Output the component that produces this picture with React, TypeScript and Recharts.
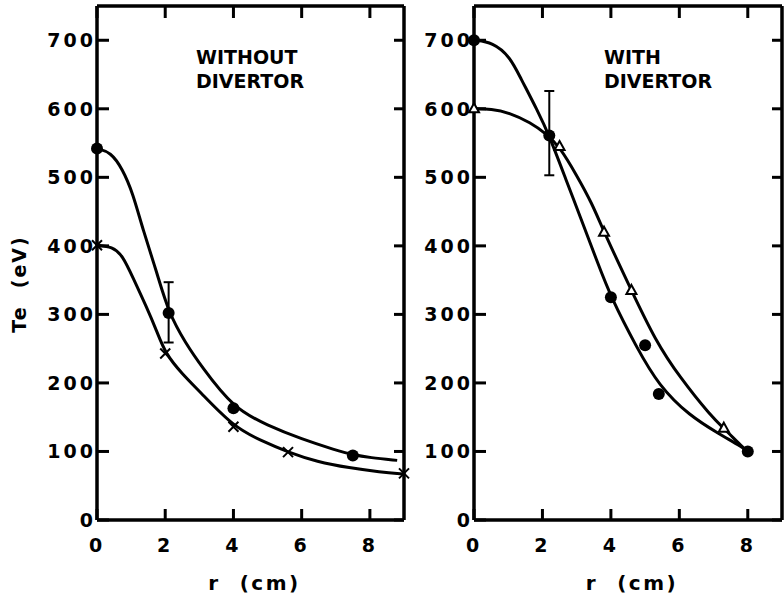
import React from 'react';
import { ComposedChart, Line, Scatter, XAxis, YAxis, ErrorBar, Label } from 'recharts';

// ---- tick labels ----
const xTicks = [0, 2, 4, 6, 8];
const yTicks = [0, 100, 200, 300, 400, 500, 600, 700];

// ---- WITHOUT DIVERTOR (left panel) ----
// filled circles
const woDotR = [0, 2.1, 4.0, 7.5];
const woDotTe = [542, 302, 163, 94];
const woDotErr: (number[] | undefined)[] = [undefined, [43, 45], undefined, undefined];
// crosses
const woCrossR = [0, 2.0, 4.0, 5.6, 9.0];
const woCrossTe = [401, 243, 136, 99, 68];
// fitted curve through circles
const woDotCurveR = [0, 0.4, 0.75, 1.05, 1.35, 1.75, 2.1, 2.6, 3.05, 4.0, 5.0, 6.0, 7.0, 7.5, 8.0, 8.8];
const woDotCurveTe = [542, 537, 512, 477, 423, 362, 302, 258, 225, 163, 138, 118, 102, 95, 91, 87];
// fitted curve through crosses
const woCrossCurveR = [0, 0.45, 0.75, 1.05, 1.45, 1.75, 2.0, 2.5, 3.0, 4.0, 4.8, 5.6, 6.45, 7.4, 8.3, 9.0];
const woCrossCurveTe = [401, 399, 386, 354, 311, 276, 243, 213, 188, 136, 116, 99, 85, 76, 70, 67];

// ---- WITH DIVERTOR (right panel) ----
const wDotR = [0, 2.2, 4.0, 5.0, 5.4, 8.0];
const wDotTe = [700, 561, 325, 255, 184, 100];
const wDotErr: (number[] | undefined)[] = [undefined, [58, 65], undefined, undefined, undefined, undefined];
const wTriR = [0, 2.5, 3.8, 4.6, 7.3];
const wTriTe = [600, 545, 420, 335, 134];
const wDotCurveR = [0, 0.55, 1.05, 1.35, 1.85, 2.2, 2.7, 3.1, 3.6, 4.0, 4.75, 5.4, 6.3, 7.15, 7.85, 8.0];
const wDotCurveTe = [700, 697, 676, 646, 598, 561, 495, 443, 377, 325, 252, 196, 152, 126, 106, 100];
const wTriCurveR = [0, 0.5, 1.05, 1.65, 2.1, 2.5, 3.0, 3.45, 3.8, 4.6, 5.3, 6.0, 6.95, 7.3, 7.85, 8.0];
const wTriCurveTe = [600, 600, 594, 580, 564, 545, 503, 462, 420, 335, 262, 209, 150, 134, 106, 100];

const zip = (r: number[], te: number[], err?: (number[] | undefined)[]) =>
  r.map((v, i) => (err && err[i] ? { r: v, te: te[i], err: err[i] } : { r: v, te: te[i] }));

const FONT = 'DejaVu Sans';
const tickStyle = { fill: '#000', fontSize: 19, fontWeight: 'bold', fontFamily: FONT, letterSpacing: 3 } as any;
const lineStyle = { stroke: '#000', strokeWidth: 3.5 };
const tickLineStyle = { stroke: '#000', strokeWidth: 3 };

const DotShape = (p: any) => <circle cx={p.cx} cy={p.cy} r={6} fill="#000" />;
const CrossShape = (p: any) => (
  <path d={`M${p.cx - 5},${p.cy - 5}L${p.cx + 5},${p.cy + 5}M${p.cx - 5},${p.cy + 5}L${p.cx + 5},${p.cy - 5}`} stroke="#000" strokeWidth={2} fill="none" />
);
const TriShape = (p: any) => (
  <path d={`M${p.cx},${p.cy - 5.5}L${p.cx + 5},${p.cy + 3.5}L${p.cx - 5},${p.cy + 3.5}Z`} stroke="#000" strokeWidth={2} fill="#fff" />
);

const YLabel = (props: any) => {
  const vb = props.viewBox;
  const x = vb.x + 12;
  const y = vb.y + vb.height / 2 + 21;
  return (
    <text x={x} y={y} transform={`rotate(-90 ${x} ${y})`} textAnchor="middle" dominantBaseline="central"
      fill="#000" fontSize={19} fontWeight="bold" fontFamily={FONT} letterSpacing={2}>
      {'Te\u00A0\u00A0(eV)'}
    </text>
  );
};
const XLabel = (props: any) => {
  const vb = props.viewBox;
  const x = vb.x + vb.width / 2 + 4;
  const y = vb.y + 70;
  return (
    <text x={x} y={y} textAnchor="middle" fill="#000" fontSize={20} fontWeight="bold" fontFamily={FONT} letterSpacing={2.5}>
      {'r\u00A0\u00A0(cm)'}
    </text>
  );
};

type PanelProps = {
  left: number;
  width: number;
  margin: { top: number; right: number; bottom: number; left: number };
  yAxisWidth: number;
  showYLabel: boolean;
  frameData: { r: number; te: number }[];
  children: React.ReactNode;
};

const Panel = ({ left, width, margin, yAxisWidth, showYLabel, frameData, children }: PanelProps) => (
  <div style={{ position: 'absolute', left, top: 0 }}>
    <ComposedChart width={width} height={603} margin={margin}>
      <XAxis xAxisId={0} dataKey="r" type="number" domain={[0, 9]} ticks={xTicks} interval={0}
        height={83} tick={tickStyle} tickSize={-11} tickMargin={30}
        axisLine={lineStyle} tickLine={tickLineStyle}>
        <Label content={XLabel} />
      </XAxis>
      <XAxis xAxisId="top" dataKey="r" orientation="top" type="number" domain={[0, 9]} ticks={xTicks} interval={0}
        height={1} tickFormatter={() => ''} tickSize={-12} axisLine={lineStyle} tickLine={tickLineStyle} />
      <YAxis yAxisId={0} type="number" domain={[0, 750]} ticks={yTicks} interval={0}
        width={yAxisWidth} tick={tickStyle} tickSize={-12} tickMargin={13}
        axisLine={lineStyle} tickLine={tickLineStyle}>
        {showYLabel ? <Label content={YLabel} /> : null}
      </YAxis>
      <YAxis yAxisId="right" orientation="right" type="number" domain={[0, 750]} ticks={yTicks} interval={0}
        width={1} tickFormatter={() => ''} tickSize={-10} axisLine={lineStyle} tickLine={tickLineStyle} />
      <Line xAxisId="top" yAxisId="right" data={frameData} dataKey="te" stroke="none" dot={false} activeDot={false} isAnimationActive={false} />
      {children}
    </ComposedChart>
  </div>
);

const titleStyle: React.CSSProperties = {
  position: 'absolute', top: 45, fontFamily: FONT, fontWeight: 'bold', fontSize: 19,
  lineHeight: '24px', color: '#000', whiteSpace: 'nowrap',
};

const curve = { type: 'basis' as const, stroke: '#000', strokeWidth: 3, dot: false, activeDot: false, isAnimationActive: false };

export default function App() {
  return (
    <div style={{ position: 'absolute', left: 0, top: 0, width: 784, height: 603, background: '#fff', overflow: 'hidden' }}>
      <Panel left={0} width={420} margin={{ top: 5, right: 15, bottom: 0, left: 7 }} yAxisWidth={90} showYLabel
        frameData={zip(woCrossR, woCrossTe)}>
        <Line data={zip(woDotCurveR, woDotCurveTe)} dataKey="te" {...curve} />
        <Line data={zip(woCrossCurveR, woCrossCurveTe)} dataKey="te" {...curve} />
        <Scatter data={zip(woDotR, woDotTe, woDotErr)} dataKey="te" shape={DotShape} isAnimationActive={false}>
          <ErrorBar dataKey="err" direction="y" width={5} stroke="#000" strokeWidth={2} />
        </Scatter>
        <Scatter data={zip(woCrossR, woCrossTe)} dataKey="te" shape={CrossShape} isAnimationActive={false} />
      </Panel>
      <Panel left={400} width={384} margin={{ top: 5, right: 1, bottom: 0, left: 4 }} yAxisWidth={70} showYLabel={false}
        frameData={zip(wTriR, wTriTe)}>
        <Line data={zip(wDotCurveR, wDotCurveTe)} dataKey="te" {...curve} />
        <Line data={zip(wTriCurveR, wTriCurveTe)} dataKey="te" {...curve} />
        <Scatter data={zip(wDotR, wDotTe, wDotErr)} dataKey="te" shape={DotShape} isAnimationActive={false}>
          <ErrorBar dataKey="err" direction="y" width={5} stroke="#000" strokeWidth={2} />
        </Scatter>
        <Scatter data={zip(wTriR, wTriTe)} dataKey="te" shape={TriShape} isAnimationActive={false} />
      </Panel>
      <div style={{ ...titleStyle, left: 196 }}>WITHOUT<br />DIVERTOR</div>
      <div style={{ ...titleStyle, left: 604 }}>WITH<br />DIVERTOR</div>
    </div>
  );
}
